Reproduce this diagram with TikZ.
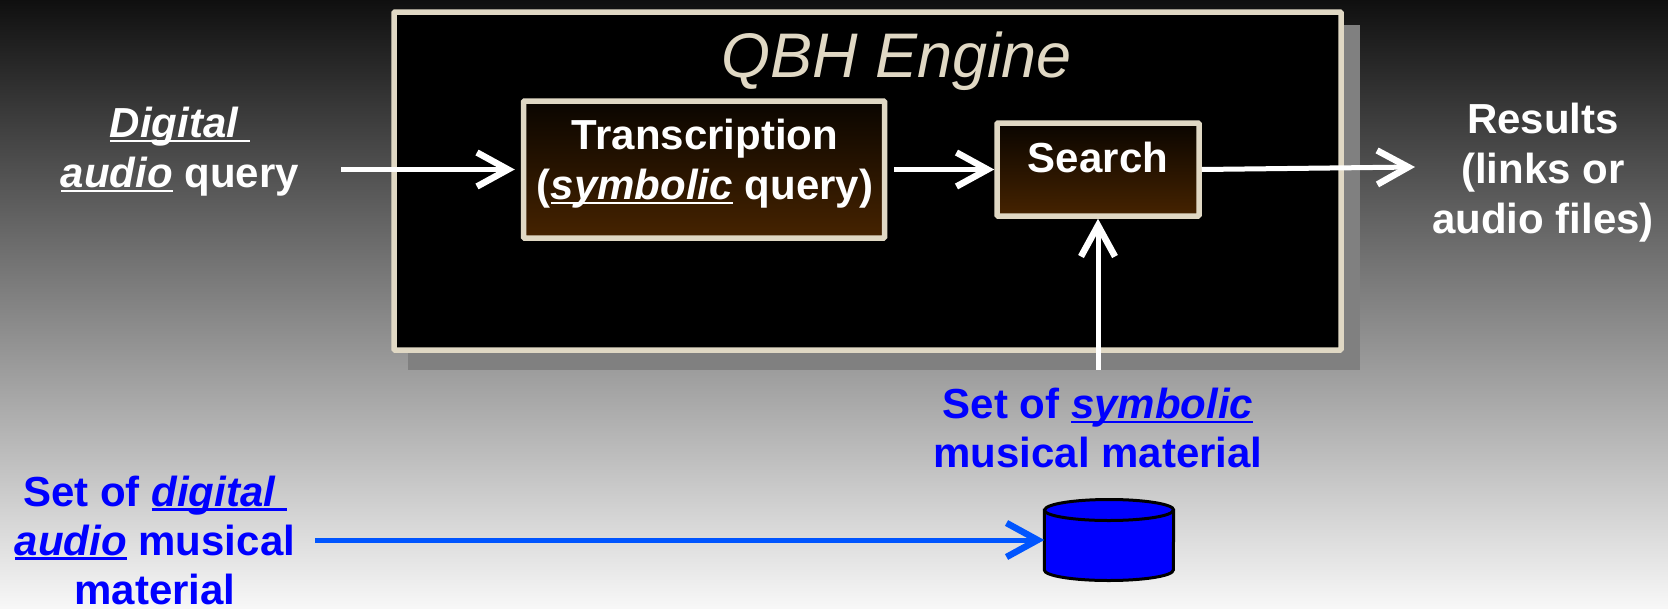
\documentclass[tikz,border=0pt]{standalone}
\usepackage{fontspec}
\setmainfont{Liberation Sans}
\usetikzlibrary{arrows.meta}
\definecolor{cream}{RGB}{224,216,196}
\definecolor{boxtop}{RGB}{10,5,0}
\definecolor{boxbottom}{RGB}{70,35,0}
\definecolor{linkblue}{RGB}{0,85,255}
\newcommand{\ulit}[1]{\setbox0=\hbox{\itshape #1}\rlap{\rule[-4.5pt]{\wd0}{2.4pt}}\box0{}}
\tikzset{
  whitetext/.style={text=white, font=\fontsize{42}{50}\selectfont\bfseries, align=center, inner sep=0pt},
  bluetext/.style={text=blue, font=\fontsize{42}{49}\selectfont\bfseries, align=center, inner sep=0pt},
  blockbox/.style={draw=cream, line width=5.5pt, top color=boxtop, bottom color=boxbottom, rounded corners=1pt, inner sep=0pt},
  arrowline/.style={draw=white, line width=5pt, -{Straight Barb[length=31pt, width=34pt, line width=6.5pt, sharp]}},
}
\begin{document}
\begin{tikzpicture}[x=1pt, y=-1pt]
  \useasboundingbox (0,0) rectangle (1668,608);
  \shade[top color=black!94, bottom color=black!3] (0,0) rectangle (1668,608);

  % Engine
  \fill[black!50] (408,25) rectangle (1360,370);
  \node[draw=cream, fill=black, line width=5.5pt, rounded corners=1pt, inner sep=0pt, minimum width=947pt, minimum height=338pt] (engine) at (867.5,181) {};
  \node[text=cream, font=\fontsize{63}{70}\selectfont\itshape, inner sep=0pt] (enginetitle) at (897,61) {QBH Engine};

  % Blocks
  \node[blockbox, minimum width=361pt, minimum height=137pt] (trans) at (704,169.5) {};
  \node[whitetext] (translabel) at (705,164) {Transcription\\(\ulit{symbolic} query)};
  \node[blockbox, minimum width=202pt, minimum height=93pt] (search) at (1098,169.5) {};
  \node[whitetext] (searchlabel) at (1098,157) {Search};

  % Labels
  \node[whitetext] (query) at (180,152) {\ulit{Digital\ }\\\ulit{audio} query};
  \node[whitetext] (results) at (1543,173) {Results\\(links or\\audio files)};
  \node[bluetext] (symbolic) at (1098,428) {Set of \ulit{symbolic}\\musical material};
  \node[bluetext] (digital) at (155,540) {Set of \ulit{digital\ }\\\ulit{audio} musical\\material};
  \node[minimum width=129pt, minimum height=80pt, inner sep=0pt] (store) at (1109,540) {};
  \draw[fill=blue, draw=black, line width=3pt] (store.west |- 0,510) -- (store.west |- 0,570) arc[start angle=180, end angle=360, x radius=64.5pt, y radius=10.5pt] -- (store.east |- 0,510) arc[start angle=0, end angle=180, x radius=64.5pt, y radius=10.5pt] -- cycle;
  \draw[draw=black, line width=3pt] (store.west |- 0,510) arc[start angle=180, end angle=360, x radius=64.5pt, y radius=10.5pt];

  % Arrows
  \coordinate (resultsin) at (1415,167);
  \draw[arrowline, shorten <=42pt, shorten >=6pt] (query.east |- trans.west) -- (trans.west);
  \draw[arrowline, shorten <=7pt] (trans.east) -- (search.west);
  \draw[arrowline] (search.east) -- (resultsin);
  \draw[arrowline, shorten <=18pt] (symbolic.north) -- (search.south);
  \draw[arrowline, draw=linkblue, shorten <=20pt] (digital.east |- store.west) -- (store.west);
\end{tikzpicture}
\end{document}
